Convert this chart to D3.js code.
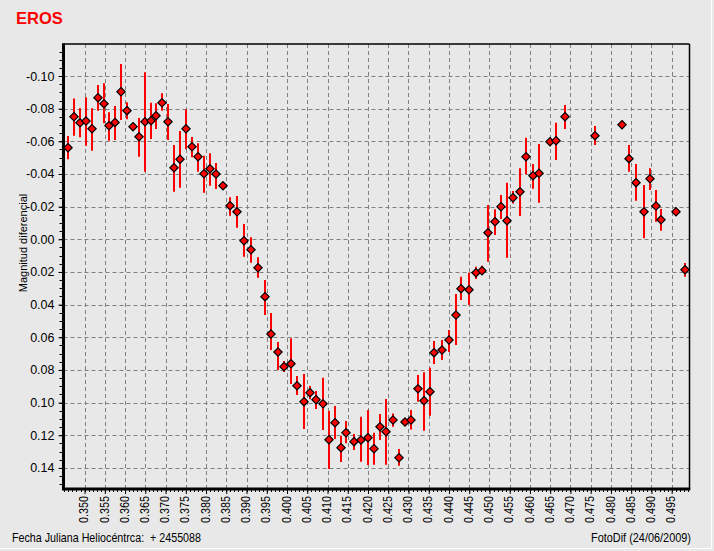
<!DOCTYPE html>
<html><head><meta charset="utf-8">
<script src="https://cdn.jsdelivr.net/npm/d3@7"></script>
<style>
html,body{margin:0;padding:0;background:#e8e8e8;}
svg{display:block;}
</style></head>
<body>
<script>
// Heliocentric JD fraction (+2455088)
const jd = [0.3459,0.3475,0.3489,0.3504,0.3519,0.3533,0.3547,0.3561,0.3576,0.3591,
0.3605,0.3619,0.3635,0.3649,0.3664,0.3677,0.3692,0.3707,0.3721,0.3736,
0.3751,0.3765,0.3780,0.3795,0.3810,0.3825,0.3842,0.3860,0.3877,0.3894,
0.3912,0.3929,0.3946,0.3961,0.3977,0.3993,0.4010,0.4024,0.4042,0.4057,
0.4072,0.4089,0.4103,0.4119,0.4134,0.4146,0.4166,0.4182,0.4199,0.4215,
0.4230,0.4245,0.4262,0.4277,0.4292,0.4306,0.4323,0.4339,0.4353,0.4363,
0.4383,0.4400,0.4418,0.4430,0.4450,0.4466,0.4481,0.4497,0.4514,0.4529,
0.4543,0.4558,0.4575,0.4590,0.4608,0.4622,0.4649,0.4664,0.4687,0.4761,
0.4827,0.4845,0.4862,0.4882,0.4896,0.4911,0.4924,0.4961,0.4983];
// Differential magnitude
const mag = [-0.0561,-0.0751,-0.0714,-0.0724,-0.0677,-0.0867,-0.0830,-0.0696,-0.0716,-0.0904,
-0.0788,-0.0690,-0.0628,-0.0720,-0.0726,-0.0757,-0.0836,-0.0720,-0.0438,-0.0490,
-0.0677,-0.0567,-0.0506,-0.0402,-0.0432,-0.0400,-0.0328,-0.0206,-0.0169,0.0009,
0.0064,0.0174,0.0351,0.0580,0.0690,0.0780,0.0762,0.0897,0.0994,0.0939,
0.0982,0.1007,0.1227,0.1123,0.1276,0.1184,0.1239,0.1229,0.1215,0.1282,
0.1148,0.1178,0.1107,0.1337,0.1119,0.1107,0.0915,0.0988,0.0933,0.0694,
0.0678,0.0617,0.0464,0.0302,0.0309,0.0205,0.0192,-0.0040,-0.0108,-0.0200,
-0.0114,-0.0255,-0.0291,-0.0506,-0.0389,-0.0404,-0.0598,-0.0604,-0.0751,-0.0634,
-0.0702,-0.0494,-0.0347,-0.0169,-0.0371,-0.0204,-0.0120,-0.0169,0.0186];
// Error bar ends (upper = more negative, lower = more positive)
const errTop = [-0.0633,-0.0863,-0.0802,-0.0870,-0.0802,-0.0945,-0.0955,-0.0778,-0.0816,-0.1073,
-0.0839,-0.0704,-0.0743,-0.1023,-0.0836,-0.0833,-0.0894,-0.0829,-0.0577,-0.0663,
-0.0796,-0.0626,-0.0588,-0.0512,-0.0527,-0.0467,-0.0349,-0.0257,-0.0265,-0.0094,
-0.0012,0.0110,0.0249,0.0451,0.0629,0.0745,0.0606,0.0837,0.0825,0.0898,
0.0929,0.0847,0.1051,0.1021,0.1203,0.1113,0.1192,0.1086,0.1045,0.1184,
0.1070,0.0978,0.1066,0.1284,0.1102,0.1045,0.0831,0.0814,0.0786,0.0623,
0.0617,0.0555,0.0335,0.0229,0.0205,0.0168,0.0162,-0.0210,-0.0184,-0.0271,
-0.0347,-0.0296,-0.0435,-0.0622,-0.0461,-0.0584,-0.0614,-0.0714,-0.0822,-0.0694,
-0.0702,-0.0577,-0.0461,-0.0333,-0.0435,-0.0302,-0.0186,-0.0186,0.0145];
const errBot = [-0.0490,-0.0634,-0.0625,-0.0573,-0.0543,-0.0788,-0.0710,-0.0604,-0.0608,-0.0731,
-0.0735,-0.0667,-0.0506,-0.0414,-0.0614,-0.0675,-0.0788,-0.0608,-0.0291,-0.0316,
-0.0551,-0.0502,-0.0414,-0.0285,-0.0328,-0.0308,-0.0302,-0.0145,-0.0071,0.0107,
0.0143,0.0235,0.0464,0.0678,0.0800,0.0813,0.0886,0.0953,0.1162,0.0980,
0.1039,0.1168,0.1407,0.1223,0.1364,0.1249,0.1290,0.1362,0.1382,0.1380,
0.1229,0.1380,0.1148,0.1386,0.1135,0.1164,0.0994,0.1172,0.1080,0.0764,
0.0739,0.0690,0.0647,0.0372,0.0402,0.0243,0.0219,0.0137,-0.0026,-0.0124,
0.0113,-0.0220,-0.0143,-0.0398,-0.0310,-0.0224,-0.0577,-0.0486,-0.0675,-0.0577,
-0.0702,-0.0414,-0.0236,-0.0006,-0.0302,-0.0108,-0.0053,-0.0149,0.0229];

const yTickLabels = ["-0.10","-0.08","-0.06","-0.04","-0.02","0.00","0.02","0.04","0.06","0.08","0.10","0.12","0.14"];
const xTickLabels = ["0.350","0.355","0.360","0.365","0.370","0.375","0.380","0.385","0.390","0.395",
"0.400","0.405","0.410","0.415","0.420","0.425","0.430","0.435","0.440","0.445",
"0.450","0.455","0.460","0.465","0.470","0.475","0.480","0.485","0.490","0.495"];

const W = 714, H = 551;
const L = 63.5, R = 689.5, T = 44, B = 489;
const svg = d3.select("body").append("svg").attr("width", W).attr("height", H);
svg.append("rect").attr("width", W).attr("height", H).attr("fill", "#e8e8e8");

const x = d3.scaleLinear().domain([0.3448, 0.4994]).range([L, R]);
const y = d3.scaleLinear().domain([-0.1196, 0.1529]).range([T, B]);

const xVals = xTickLabels.map(Number);
const yVals = yTickLabels.map(Number);

// grid
const grid = svg.append("g").attr("stroke", "#808080").attr("stroke-width", 1).attr("stroke-dasharray", "4,3");
grid.selectAll("line.v").data(xVals).join("line")
  .attr("x1", d => Math.round(x(d)) + 0.5).attr("x2", d => Math.round(x(d)) + 0.5)
  .attr("y1", T).attr("y2", B);
grid.selectAll("line.h").data(yVals).join("line")
  .attr("y1", d => Math.round(y(d)) + 0.5).attr("y2", d => Math.round(y(d)) + 0.5)
  .attr("x1", L).attr("x2", R);

// minor ticks
const yMinor = d3.range(-0.115, 0.1501, 0.005);
svg.append("g").attr("stroke", "#000").selectAll("line").data(yMinor).join("line")
  .attr("x1", L - 4).attr("x2", L)
  .attr("y1", d => Math.round(y(d)) + 0.5).attr("y2", d => Math.round(y(d)) + 0.5);
const xMinor = d3.range(0.345, 0.4995, 0.001);
svg.append("g").attr("stroke", "#000").selectAll("line").data(xMinor).join("line")
  .attr("y1", B).attr("y2", B + 3)
  .attr("x1", d => Math.round(x(d)) + 0.5).attr("x2", d => Math.round(x(d)) + 0.5);

// axes via d3
const yAxis = d3.axisLeft(y).tickValues(yVals).tickFormat((d, i) => yTickLabels[i]).tickSize(5).tickSizeOuter(0);
const gy = svg.append("g").attr("transform", `translate(${L},0)`).call(yAxis);
gy.select(".domain").remove();
gy.selectAll("text").attr("font-family", "Arial, 'Liberation Sans', sans-serif").attr("font-size", 12.5).attr("fill", "#000").attr("dx", "-1");

const xAxis = d3.axisBottom(x).tickValues(xVals).tickFormat((d, i) => xTickLabels[i]).tickSize(5).tickSizeOuter(0);
const gx = svg.append("g").attr("transform", `translate(0,${B})`).call(xAxis);
gx.select(".domain").remove();
gx.selectAll("text")
  .attr("font-family", "Arial, 'Liberation Sans', sans-serif")
  .attr("font-size", 12).attr("fill", "#000")
  .attr("textLength", 27).attr("lengthAdjust", "spacingAndGlyphs")
  .attr("transform", "rotate(-90)")
  .attr("text-anchor", "end").attr("x", -7).attr("y", -1).attr("dy", "0.35em");

// frame
svg.append("line").attr("x1", L).attr("x2", R).attr("y1", T).attr("y2", T).attr("stroke", "#000").attr("stroke-width", 1.5);
svg.append("line").attr("x1", R).attr("x2", R).attr("y1", T).attr("y2", B).attr("stroke", "#000").attr("stroke-width", 1.5);
svg.append("line").attr("x1", L).attr("x2", L).attr("y1", T - 0.75).attr("y2", B + 1.5).attr("stroke", "#000").attr("stroke-width", 3);
svg.append("line").attr("x1", L).attr("x2", R + 0.75).attr("y1", B).attr("y2", B).attr("stroke", "#000").attr("stroke-width", 3);

// error bars
const pts = jd.map((d, i) => ({x: d, y: mag[i], t: errTop[i], b: errBot[i]}));
svg.append("g").selectAll("line").data(pts).join("line")
  .attr("x1", d => Math.round(x(d.x))).attr("x2", d => Math.round(x(d.x)))
  .attr("y1", d => y(d.t)).attr("y2", d => y(d.b))
  .attr("stroke", "#ff0000").attr("stroke-width", 2);

// markers
const sym = d3.symbol().type(d3.symbolDiamond2).size(44);
svg.append("g").selectAll("path").data(pts).join("path")
  .attr("d", sym)
  .attr("transform", d => `translate(${Math.round(x(d.x))},${y(d.y)})`)
  .attr("fill", "#ff0000").attr("stroke", "#000").attr("stroke-width", 1.2);

// texts
svg.append("text").attr("x", 16).attr("y", 23.5).text("EROS")
  .attr("font-family", "Arial, 'Liberation Sans', sans-serif").attr("font-weight", "bold")
  .attr("font-size", 16.5).attr("fill", "#ff0000");
svg.append("text").attr("transform", `translate(27,243) rotate(-90)`)
  .attr("text-anchor", "middle").text("Magnitud diferencial")
  .attr("font-family", "Arial, 'Liberation Sans', sans-serif").attr("font-size", 11).attr("fill", "#000");
svg.append("text").attr("x", 12).attr("y", 542).text("Fecha Juliana Heliocéntrca:  + 2455088")
  .attr("xml:space", "preserve").attr("textLength", 189).attr("lengthAdjust", "spacingAndGlyphs")
  .attr("font-family", "Arial, 'Liberation Sans', sans-serif").attr("font-size", 13).attr("fill", "#000");
svg.append("text").attr("x", 591).attr("y", 542).text("FotoDif (24/06/2009)")
  .attr("textLength", 100).attr("lengthAdjust", "spacingAndGlyphs")
  .attr("font-family", "Arial, 'Liberation Sans', sans-serif").attr("font-size", 13).attr("fill", "#000");

// window border
svg.append("line").attr("x1", 711.5).attr("x2", 711.5).attr("y1", 0).attr("y2", 549).attr("stroke", "#ffffff");
svg.append("line").attr("x1", 0).attr("x2", 712).attr("y1", 548.5).attr("y2", 548.5).attr("stroke", "#ffffff");
</script>
</body></html>
